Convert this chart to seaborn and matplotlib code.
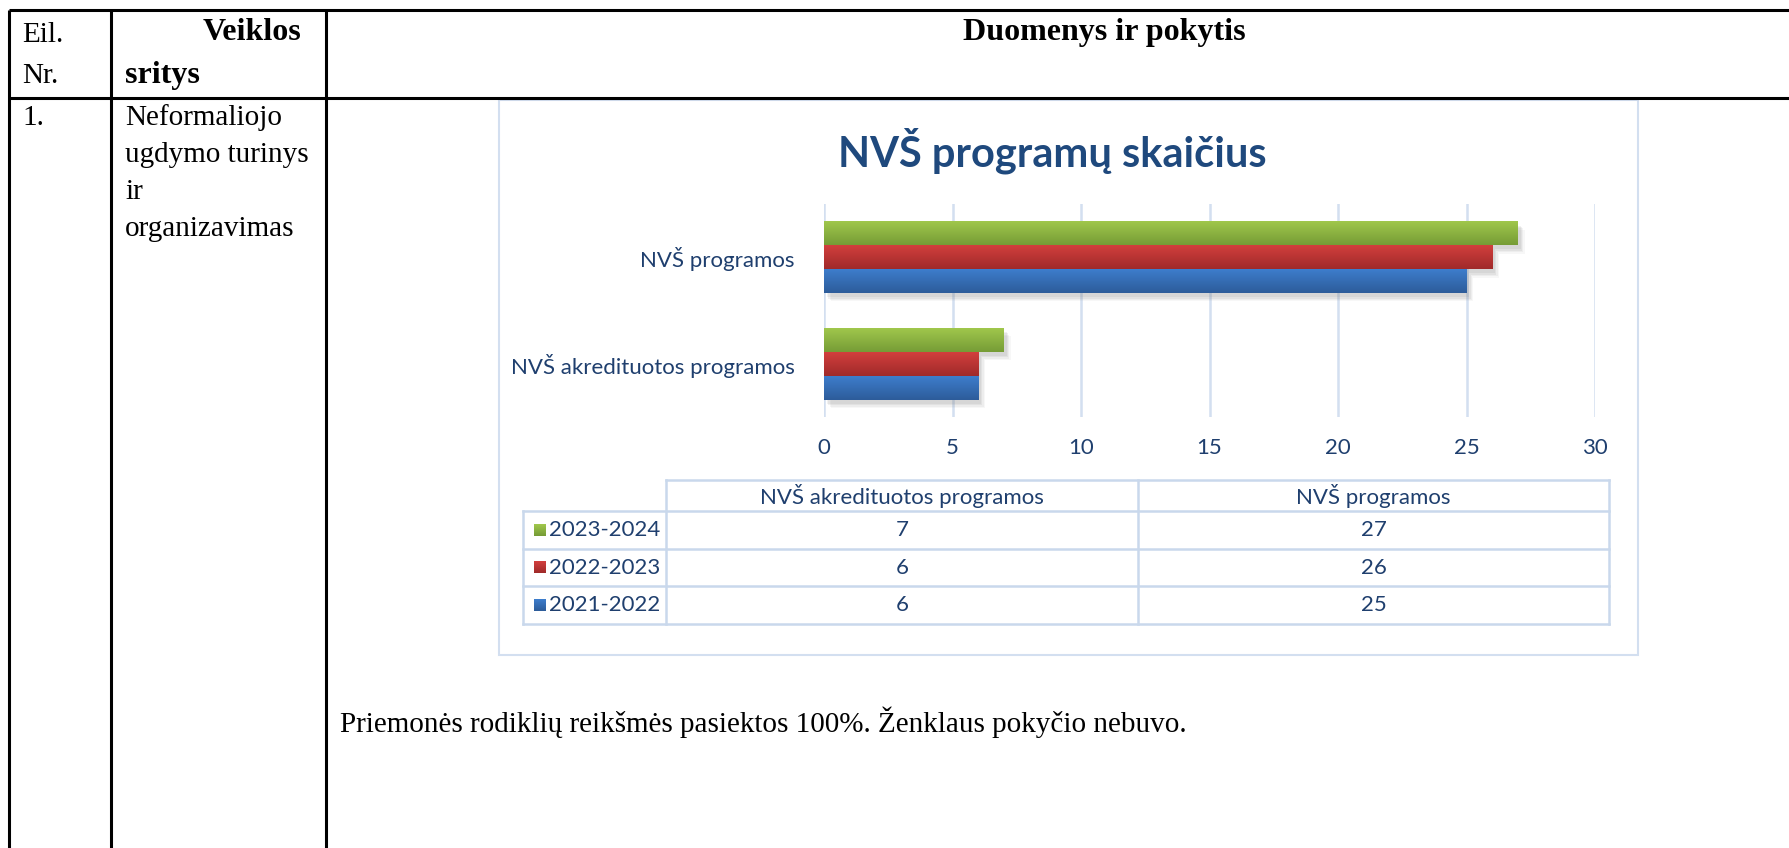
import matplotlib
matplotlib.use("Agg")
import matplotlib.pyplot as plt
import seaborn as sns
import pandas as pd
import numpy as np
from matplotlib import patheffects
from matplotlib.colors import to_rgb

# duomenys
categories = ["NVŠ programos", "NVŠ akredituotos programos"]
years = ["2023-2024", "2022-2023", "2021-2022"]
vals_2023_2024 = [27, 7]
vals_2022_2023 = [26, 6]
vals_2021_2022 = [25, 6]
x_ticks = [0, 5, 10, 15, 20, 25, 30]

title = "NVŠ programų skaičius"
note = "Priemonės rodiklių reikšmės pasiektos 100%. Ženklaus pokyčio nebuvo."

# spalvos (viršus -> apačia, gradientas)
grad = {
    "2023-2024": ("#a0c74c", "#769c36"),
    "2022-2023": ("#d23f3d", "#a02a2a"),
    "2021-2022": ("#3d7dcc", "#2d5c9a"),
}
txt_blue = "#1f3f6e"
title_blue = "#1f497d"
line_blue = "#d3dff0"

df = pd.DataFrame({
    "kategorija": categories * 3,
    "metai": [y for y in years for _ in categories],
    "reiksme": vals_2023_2024 + vals_2022_2023 + vals_2021_2022,
})

W, H = 1789, 848
fig = plt.figure(figsize=(W / 100, H / 100), dpi=100)
fig.patch.set_facecolor("white")

# dokumento lentelė (pikseliai)
doc = fig.add_axes([0, 0, 1, 1])
doc.set_xlim(0, W)
doc.set_ylim(H, 0)
doc.axis("off")

serif = "Liberation Serif"
fs_doc = 21
fs_bold = 23
lw_doc = 2.2
doc.plot([9, W], [10, 10], color="black", lw=lw_doc, solid_capstyle="butt")
doc.plot([9, W], [98, 98], color="black", lw=lw_doc, solid_capstyle="butt")
for xv in [9, 111, 326]:
    doc.plot([xv, xv], [10, H], color="black", lw=lw_doc, solid_capstyle="butt")

doc.text(22, 42, "Eil.", family=serif, fontsize=fs_doc, va="baseline")
doc.text(22, 83, "Nr.", family=serif, fontsize=fs_doc, va="baseline")
doc.text(301, 40, "Veiklos", family=serif, fontsize=fs_bold, weight="bold", va="baseline", ha="right")
doc.text(125, 83, "sritys", family=serif, fontsize=fs_bold, weight="bold", va="baseline")
doc.text(1104, 40, "Duomenys ir pokytis", family=serif, fontsize=fs_bold, weight="bold", va="baseline", ha="center")
doc.text(22, 125, "1.", family=serif, fontsize=fs_doc, va="baseline")
for i, line in enumerate(["Neformaliojo", "ugdymo turinys", "ir", "organizavimas"]):
    doc.text(125, 125 + i * 37, line, family=serif, fontsize=fs_doc, va="baseline")
doc.text(340, 732, note, family=serif, fontsize=fs_doc, va="baseline")

# diagramos rėmelis
doc.add_patch(plt.Rectangle((499, 100), 1638 - 499, 655 - 100, fill=False,
                            edgecolor=line_blue, lw=1.5))

sans = "Lato"
fs_chart = 16
doc.text(1052, 151, title, family=sans, fontsize=30, weight="bold",
         color=title_blue, ha="center", va="center")

# juostinė diagrama
ax = fig.add_axes([824 / W, 1 - 417 / H, (1595 - 824) / W, 213 / H])
ax.set_facecolor("none")
sns.barplot(data=df, y="kategorija", x="reiksme", hue="metai", order=categories,
            hue_order=years, palette=[grad[y][0] for y in years], saturation=1,
            width=0.673, gap=0, legend=False, ax=ax, zorder=3)

shadow = [patheffects.SimplePatchShadow(offset=(o, -o - 1), shadow_rgbFace="#7a7a7a", alpha=a)
          for o, a in [(5, 0.06), (4, 0.08), (3, 0.1), (2, 0.1)]]
for patch in ax.patches:
    fc = patch.get_facecolor()[:3]
    yr = [y for y in years if np.allclose(to_rgb(grad[y][0]), fc)][0]
    c0, c1 = np.array(to_rgb(grad[yr][0])), np.array(to_rgb(grad[yr][1]))
    t = np.linspace(0, 1, 64)[:, None, None]
    img = c0 * (1 - t) + c1 * t
    x0, y0 = patch.get_x(), patch.get_y()
    w, h = patch.get_width(), patch.get_height()
    im = ax.imshow(img, extent=(x0, x0 + w, y0 + h, y0), origin="upper",
                   aspect="auto", zorder=3.5, interpolation="bilinear")
    im.set_clip_path(patch)
    patch.set_path_effects(shadow + [patheffects.Normal()])

ax.set_xlim(0, 30)
ax.set_ylim(1.5, -0.5)
ax.set_xticks(x_ticks)
ax.xaxis.grid(True, color=line_blue, lw=1.8)
ax.yaxis.grid(False)
ax.set_axisbelow(True)
for s in ax.spines.values():
    s.set_visible(False)
ax.set_xlabel("")
ax.set_ylabel("")
ax.tick_params(axis="both", length=0, labelsize=fs_chart, labelcolor=txt_blue)
ax.tick_params(axis="x", pad=15)
ax.tick_params(axis="y", pad=21)
for lab in ax.get_xticklabels() + ax.get_yticklabels():
    lab.set_family(sans)

# duomenų lentelė po diagrama
tx0, tx1, tx2, tx3 = 523, 666, 1138, 1609
ty = [480, 511, 549, 586, 624]
lkw = dict(color="#c9d8ec", lw=1.8)
doc.plot([tx1, tx3], [ty[0], ty[0]], **lkw)
for yv in ty[1:]:
    doc.plot([tx0, tx3], [yv, yv], **lkw)
doc.plot([tx0, tx0], [ty[1], ty[-1]], **lkw)
for xv in [tx1, tx2, tx3]:
    doc.plot([xv, xv], [ty[0], ty[-1]], **lkw)

table_cols = categories[::-1]
col_centers = [(tx1 + tx2) / 2, (tx2 + tx3) / 2]
for cx, cat in zip(col_centers, table_cols):
    doc.text(cx, (ty[0] + ty[1]) / 2, cat, family=sans, fontsize=fs_chart,
             color=txt_blue, ha="center", va="center")
series = {"2023-2024": vals_2023_2024, "2022-2023": vals_2022_2023, "2021-2022": vals_2021_2022}
for r, yr in enumerate(years):
    yc = (ty[r + 1] + ty[r + 2]) / 2
    sq = 12
    c0, c1 = np.array(to_rgb(grad[yr][0])), np.array(to_rgb(grad[yr][1]))
    t = np.linspace(0, 1, 16)[:, None, None]
    doc.imshow(c0 * (1 - t) + c1 * t, extent=(534, 534 + sq, yc + sq / 2, yc - sq / 2),
               aspect="auto", zorder=3)
    doc.text(549, yc, yr, family=sans, fontsize=fs_chart, color=txt_blue, va="center")
    for cx, cat in zip(col_centers, table_cols):
        v = series[yr][categories.index(cat)]
        doc.text(cx, yc, str(v), family=sans, fontsize=fs_chart, color=txt_blue,
                 ha="center", va="center")
doc.set_xlim(0, W)
doc.set_ylim(H, 0)

fig.savefig("out.png", dpi=100)
